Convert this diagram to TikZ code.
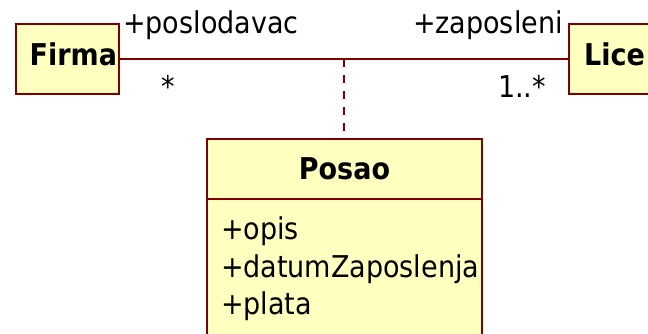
\documentclass[tikz,border=0pt]{standalone}
\usepackage{fontspec}
\setmainfont{DejaVu Sans Condensed}
\definecolor{umlborder}{RGB}{128,0,0}
\definecolor{umlfill}{RGB}{255,255,192}

\begin{document}
\begin{tikzpicture}[x=1pt, y=-1pt]
        \tikzset{classbox/.style={draw=umlborder, fill=umlfill, line width=2pt, outer sep=0pt, inner sep=0pt, font=\fontsize{30}{37.5}\selectfont\bfseries},
                 attrbox/.style={draw=umlborder, fill=umlfill, line width=2pt, outer sep=0pt, inner xsep=14pt, inner ysep=18pt, text width=247pt, align=left, font=\fontsize{30}{37.5}\selectfont},
                 role/.style={inner sep=0pt, font=\fontsize{30}{37.5}\selectfont},
                 link/.style={draw=umlborder, line width=2pt}}
        \useasboundingbox (0,0) rectangle (648,334);
        \node [classbox, minimum height=70pt, text depth=10pt, inner xsep=2pt, text width=99pt, align=right] (Firma) at (67.5,59)  {Firma};
        \node [classbox, minimum width=91pt, minimum height=70pt, text depth=10pt] (Lice) at (614.5,59) {Lice};
        \node [classbox, minimum width=275pt, minimum height=60pt, anchor=north west] (Posao) at (207,139) {Posao};
        \node [attrbox, anchor=north west] (PosaoAttr) at (Posao.south west) {+opis\\+datumZaposlenja\\+plata};
        \draw [link] (Firma) -- coordinate (mid) (Lice);
        \draw [link, dash pattern=on 8.5pt off 7.5pt] (mid) -- (mid |- Posao.north);
        \node [role, anchor=base west] (poslodavac) at (123,34) {+poslodavac};
        \node [role, anchor=base east] (zaposleni)  at (563,34) {+zaposleni};
        \node [role, anchor=base]      (multFirma)  at (168,98) {*};
        \node [role, anchor=base east] (multLice)   at (546,98) {1..*};
    \end{tikzpicture}
\end{document}
